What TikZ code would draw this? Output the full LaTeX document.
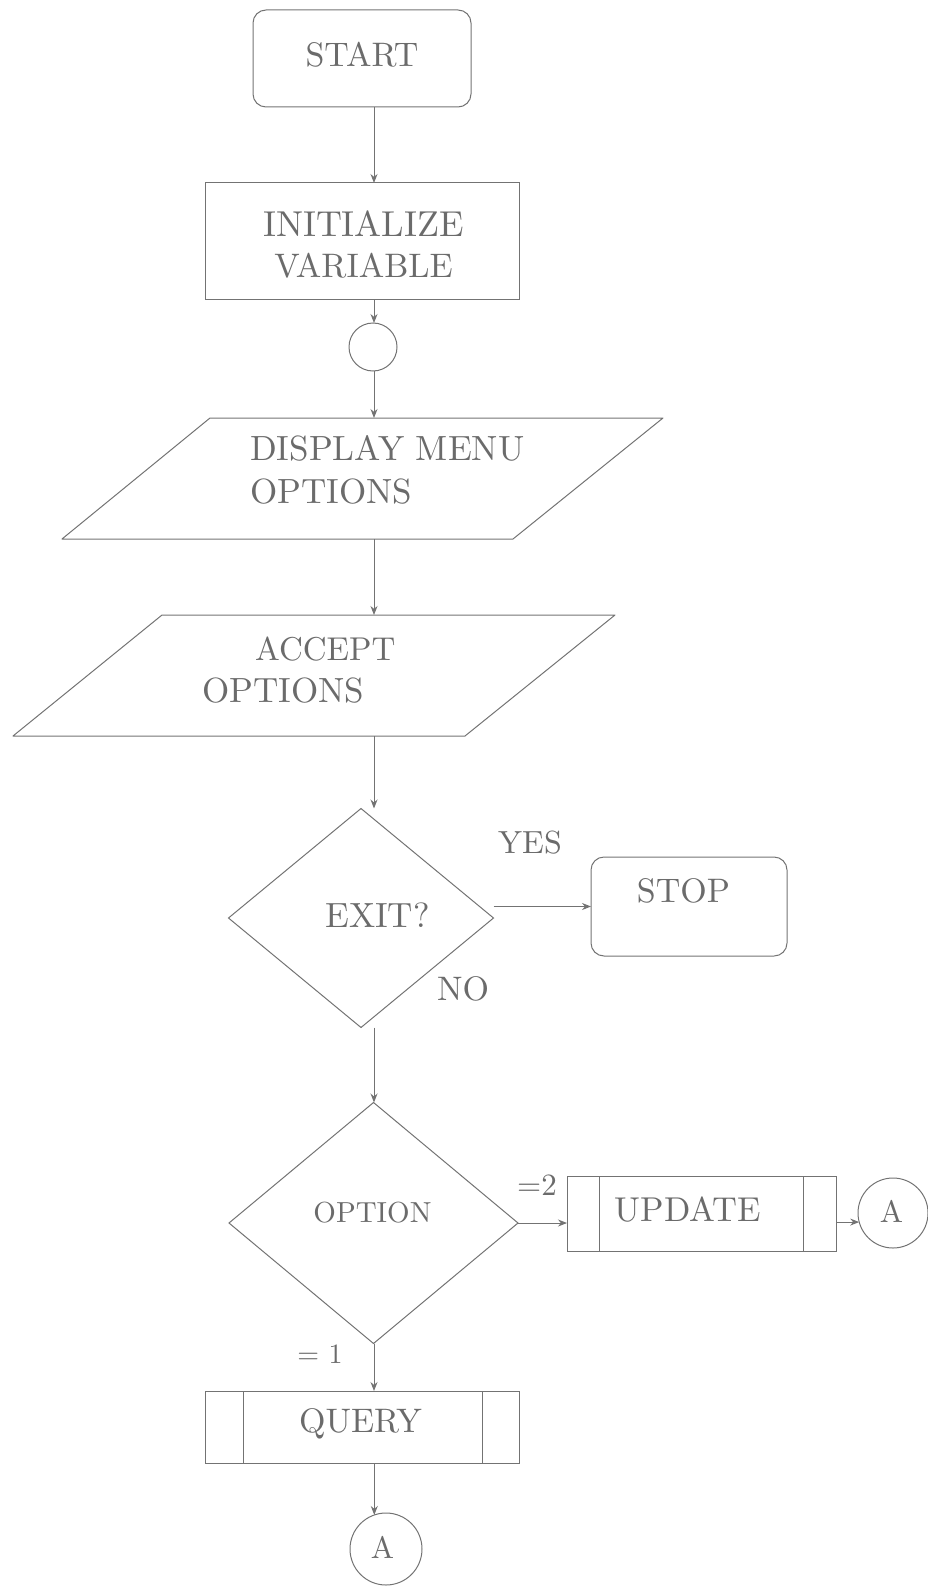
\documentclass[tikz,border=0pt]{standalone}
\usepackage{fontspec}
\setmainfont{lmroman10-regular.otf}
\usetikzlibrary{shapes.geometric,arrows.meta}
\definecolor{linec}{gray}{0.45}
\definecolor{textc}{gray}{0.42}
\tikzset{
  outline/.style={draw=linec, line width=1pt, inner sep=0pt, outer sep=0pt},
  termbox/.style={outline, rectangle, rounded corners=13pt},
  procbox/.style={outline, rectangle},
  connector/.style={outline, circle},
  decide/.style={outline, diamond},
  ioframe/.style={rectangle, inner sep=0pt, outer sep=0pt, minimum height=121pt},
  ioline/.style={draw=linec, line width=1pt, line join=round},
  txt/.style={text=textc, inner sep=0pt, anchor=base,
    font=\fontsize{35}{42}\selectfont},
  smalltxt/.style={txt, font=\fontsize{31}{37}\selectfont},
  arr/.style={draw=linec, line width=1pt, -{Stealth[length=9pt,width=7pt]}},
  sideline/.style={draw=linec, line width=1pt},
}
\begin{document}
\begin{tikzpicture}[x=1pt,y=-1pt]
\useasboundingbox (0,0) rectangle (928,1586);
\coordinate (spine) at (374,0);

% shapes
\node[termbox, minimum width=218pt, minimum height=97pt] (start) at (362,58.5) {};
\node[procbox, minimum width=314pt, minimum height=117pt] (init) at (362,241.5) {};
\node[connector, minimum size=48pt] (join) at (373,347) {};
\node[ioframe, minimum width=601pt] (disp) at (362.5,478.5) {};
\node[ioframe, minimum width=602pt] (acc) at (314,675.5) {};
\node[decide, minimum width=265pt, minimum height=219pt] (exit) at (361,918) {};
\node[termbox, minimum width=196pt, minimum height=99pt] (stop) at (689,906.5) {};
\node[decide, minimum width=289pt, minimum height=241pt] (opt) at (373.5,1223) {};
\node[procbox, minimum width=269pt, minimum height=75pt] (upd) at (701.5,1213.5) {};
\node[connector, minimum size=70pt] (ra) at (893,1213) {};
\node[procbox, minimum width=314pt, minimum height=72pt] (query) at (362,1427) {};
\node[connector, minimum size=72pt] (ba) at (386,1549) {};

% input/output parallelograms
\draw[ioline] ([xshift=148pt]disp.north west) -- (disp.north east)
  -- ([xshift=-150pt]disp.south east) -- (disp.south west) -- cycle;
\draw[ioline] ([xshift=149pt]acc.north west) -- (acc.north east)
  -- ([xshift=-150pt]acc.south east) -- (acc.south west) -- cycle;

% predefined-process side bars
\draw[sideline] ([xshift=32pt]upd.north west) -- ([xshift=32pt]upd.south west);
\draw[sideline] ([xshift=-33pt]upd.north east) -- ([xshift=-33pt]upd.south east);
\draw[sideline] ([xshift=38pt]query.north west) -- ([xshift=38pt]query.south west);
\draw[sideline] ([xshift=-37pt]query.north east) -- ([xshift=-37pt]query.south east);

% texts
\node[txt, font=\fontsize{34}{40}\selectfont] (tstart) at (362,67) {START};
\node[txt, font=\fontsize{36}{42}\selectfont] (tinit1) at (363.5,237) {INITIALIZE};
\node[txt, font=\fontsize{34}{40}\selectfont] (tinit2) at (363.5,278) {VARIABLE};
\node[txt, anchor=base west] (tdisp1) at (250,460) {DISPLAY MENU};
\node[txt, anchor=base west] (tdisp2) at (250,503) {OPTIONS};
\node[txt, anchor=base west, font=\fontsize{33}{40}\selectfont] (tacc1) at (255,660) {ACCEPT};
\node[txt, anchor=base west] (tacc2) at (202,702) {OPTIONS};
\node[txt] (texit) at (377.5,927) {EXIT?};
\node[txt, font=\fontsize{32}{38}\selectfont] (tyes) at (530,853) {YES};
\node[txt, font=\fontsize{34}{40}\selectfont] (tno) at (463,1000) {NO};
\node[txt, font=\fontsize{34}{40}\selectfont] (tstop) at (683.5,902) {STOP};
\node[smalltxt, font=\fontsize{29}{35}\selectfont] (topt) at (372.5,1222) {OPTION};
\node[smalltxt] (ttwo) at (537,1195) {=2};
\node[txt, font=\fontsize{34.5}{40}\selectfont] (tupd) at (688,1221) {UPDATE};
\node[smalltxt, font=\fontsize{28}{34}\selectfont] (tone) at (320,1363) {= 1};
\node[txt, font=\fontsize{34}{40}\selectfont] (tquery) at (360.5,1432) {QUERY};
\node[smalltxt] (tra) at (891.5,1222) {A};
\node[smalltxt] (tba) at (382.5,1558) {A};

% connectors
\draw[arr] (start.south -| spine) -- (init.north -| spine);
\draw[arr] (init.south -| spine) -- (join.north -| spine);
\draw[arr] (join.south -| spine) -- (disp.north -| spine);
\draw[arr] (disp.south -| spine) -- (acc.north -| spine);
\draw[arr] (acc.south -| spine) -- (exit.north -| spine);
\draw[arr] (exit.east |- stop.west) -- (stop.west);
\draw[arr] (exit.south -| spine) -- (opt.north -| spine);
\draw[arr] (opt.east) -- (upd.west |- opt.east);
\draw[arr] (upd.east |- ra.195) -- (ra.195);
\draw[arr] (opt.south -| spine) -- (query.north -| spine);
\draw[arr] (query.south -| ba.109) -- (ba.109);
\end{tikzpicture}
\end{document}
